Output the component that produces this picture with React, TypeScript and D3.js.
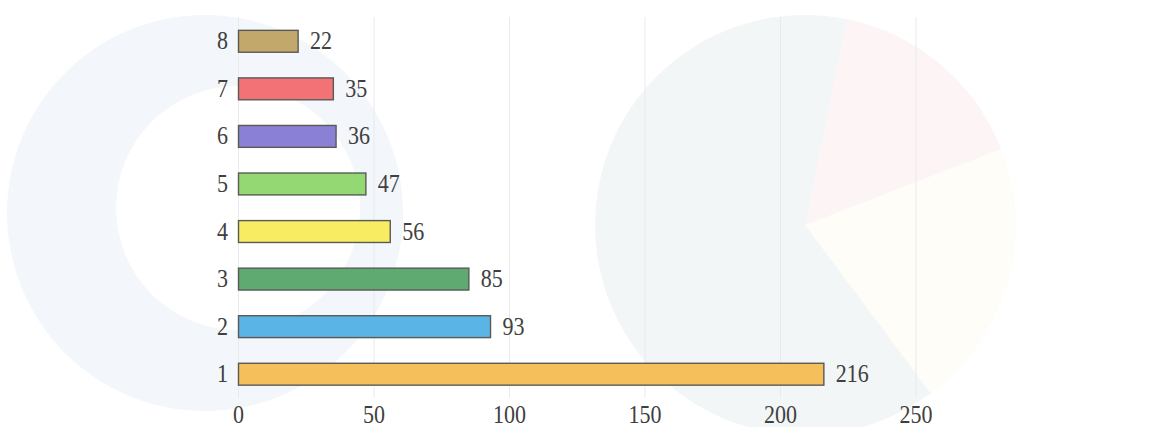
import React from "react";
import * as d3 from "d3";

const categories = ["1", "2", "3", "4", "5", "6", "7", "8"];
const values = [216, 93, 85, 56, 47, 36, 35, 22];
const barColors = ["#f5c05c", "#5ab4e6", "#5eaa70", "#f8ec62", "#94d873", "#8a80d6", "#f27276", "#c3a86c"];
const xTicks = [0, 50, 100, 150, 200, 250];

const W = 1155;
const H = 427;

export default function App() {
  const x = d3.scaleLinear().domain([0, 250]).range([238.5, 916]);
  const y = d3
    .scaleBand<string>()
    .domain([...categories].reverse())
    .range([17.5, 398])
    .paddingInner(0.54)
    .paddingOuter(0.27);
  const font = "Liberation Serif, Times New Roman, serif";
  const textColor = "#404040";
  const gridTop = 17;
  const gridBottom = 398;
  const fs = 22;
  const sy = 1.13;
  const pie = (a0: number, a1: number) =>
    d3.arc()({ innerRadius: 0, outerRadius: 210, startAngle: a0, endAngle: a1 }) || "";

  return (
    <svg
      width={W}
      height={H}
      style={{ position: "absolute", left: 0, top: 0, background: "#ffffff", fontFamily: font }}
    >
      {/* faint watermark background */}
      <g>
        <circle cx={205} cy={213} r={198} fill="#f3f6fa" />
        <circle cx={238} cy={208} r={122} fill="#ffffff" />
        <circle cx={805} cy={225} r={210} fill="#f3f6f7" />
        <path d={pie(0.2, 1.2)} transform="translate(805,225)" fill="#fdf5f5" />
        <path d={pie(1.2, 2.5)} transform="translate(805,225)" fill="#fefdf8" />
      </g>
      {/* grid lines */}
      {xTicks.map((t) => (
        <line
          key={"g" + t}
          x1={x(t)}
          x2={x(t)}
          y1={gridTop}
          y2={gridBottom}
          stroke="#e8eaec"
          strokeWidth={1}
        />
      ))}
      {/* bars */}
      {categories.map((c, i) => (
        <rect
          key={"b" + c}
          x={x(0)}
          y={y(c)}
          width={x(values[i]) - x(0)}
          height={y.bandwidth()}
          fill={barColors[i]}
          stroke="#5a5a55"
          strokeWidth={1.4}
        />
      ))}
      {/* value labels */}
      {categories.map((c, i) => (
        <text
          key={"v" + c}
          transform={`translate(${x(values[i]) + 12},${(y(c) as number) + y.bandwidth() / 2 + 8}) scale(1,${sy})`}
          fontFamily={font}
          fontSize={fs}
          fill={textColor}
        >
          {values[i]}
        </text>
      ))}
      {/* category labels */}
      {categories.map((c) => (
        <text
          key={"c" + c}
          transform={`translate(228,${(y(c) as number) + y.bandwidth() / 2 + 8}) scale(1,${sy})`}
          textAnchor="end"
          fontFamily={font}
          fontSize={fs}
          fill={textColor}
        >
          {c}
        </text>
      ))}
      {/* x tick labels */}
      {xTicks.map((t) => (
        <text
          key={"t" + t}
          transform={`translate(${x(t)},423) scale(1,${sy})`}
          textAnchor="middle"
          fontFamily={font}
          fontSize={fs}
          fill={textColor}
        >
          {t}
        </text>
      ))}
    </svg>
  );
}
